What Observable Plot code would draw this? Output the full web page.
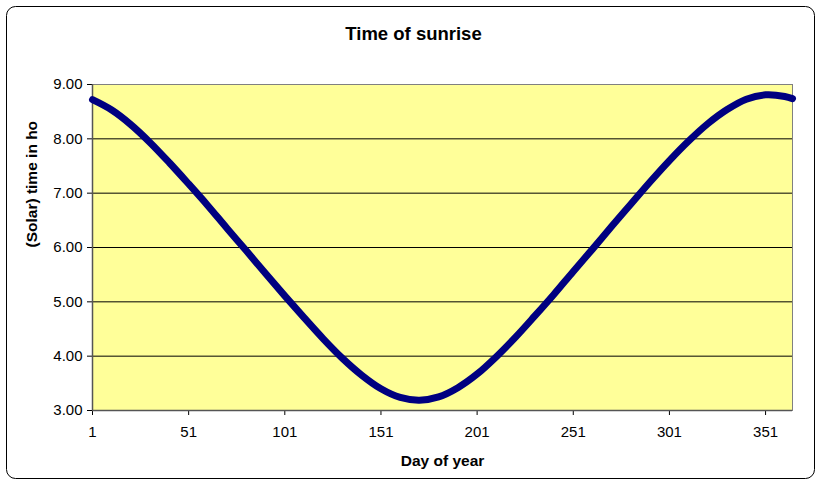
<!DOCTYPE html>
<html>
<head>
<meta charset="utf-8">
<script src="https://cdn.jsdelivr.net/npm/d3@7"></script>
<script src="https://cdn.jsdelivr.net/npm/@observablehq/plot@0.6"></script>
<style>
  html, body { margin: 0; padding: 0; background: #ffffff; }
  #chart { width: 819px; height: 486px; }
</style>
</head>
<body>
<div id="chart"></div>
<script>
// Data (day of year, solar time of sunrise in hours)
const days = [1, 11, 21, 31, 41, 51, 61, 71, 81, 91, 101, 111, 121, 131, 141, 151, 161, 171, 181,
              191, 201, 211, 221, 231, 241, 251, 261, 271, 281, 291, 301, 311, 321, 331, 341, 351, 361, 365];
const sunrise = [8.72, 8.53, 8.26, 7.93, 7.56, 7.17, 6.77, 6.35, 5.94, 5.52, 5.11, 4.71, 4.32, 3.96, 3.65, 3.40, 3.24, 3.19, 3.25,
                 3.42, 3.67, 3.99, 4.35, 4.74, 5.14, 5.56, 5.97, 6.39, 6.80, 7.21, 7.60, 7.96, 8.28, 8.54, 8.73, 8.81, 8.78, 8.74];
const xTicks = [1, 51, 101, 151, 201, 251, 301, 351];
const yTicks = [3, 4, 5, 6, 7, 8, 9];
const gridValues = [4, 5, 6, 7, 8];
const title = "Time of sunrise";
const xTitle = "Day of year";
const yTitle = "(Solar) time in ho";

const rows = days.map((d, i) => ({day: d, time: sunrise[i]}));
const font = "'Liberation Sans', Arial, Helvetica, sans-serif";

const chart = Plot.plot({
  width: 819,
  height: 486,
  marginLeft: 92,
  marginRight: 27,
  marginTop: 84,
  marginBottom: 76,
  style: {fontFamily: font, fontSize: "15px", color: "#000", background: "#fff", overflow: "visible"},
  x: {domain: [1, 365], ticks: xTicks, tickSize: 5, tickPadding: 11, tickFormat: d => String(d), label: null},
  y: {domain: [3, 9], ticks: yTicks, tickSize: 5, tickPadding: 5, tickFormat: d => d.toFixed(2), label: null},
  marks: [
    Plot.frame({fill: "#FFFF99", stroke: "#808080", strokeWidth: 1}),
    Plot.ruleY(gridValues, {stroke: "#000", strokeWidth: 1}),
    Plot.ruleX([1], {stroke: "#555", strokeWidth: 1.5}),
    Plot.ruleY([3], {stroke: "#555", strokeWidth: 1.5}),
    Plot.line(rows, {x: "day", y: "time", stroke: "#000080", strokeWidth: 7, curve: "catmull-rom", strokeLinecap: "round", strokeLinejoin: "round"}),
    Plot.text([title], {frameAnchor: "top", dx: -29, dy: -50, text: d => d, fontWeight: "bold", fontSize: 18.5, lineAnchor: "middle", fill: "#000"}),
    Plot.text([xTitle], {frameAnchor: "bottom", dy: 51, text: d => d, fontWeight: "bold", fontSize: 15.5, lineAnchor: "middle", fill: "#000"}),
    Plot.text([yTitle], {frameAnchor: "left", dx: -60, rotate: -90, text: d => d, fontWeight: "bold", fontSize: 15.5, lineAnchor: "middle", fill: "#000"})
  ]
});

// outer rounded chart-area border
d3.select(chart).insert("rect", ":first-child")
  .attr("x", 6.5).attr("y", 6.5).attr("width", 808).attr("height", 472)
  .attr("rx", 9).attr("ry", 9)
  .attr("fill", "#fff").attr("stroke", "#000").attr("stroke-width", 1);

document.getElementById("chart").appendChild(chart);
</script>
</body>
</html>
